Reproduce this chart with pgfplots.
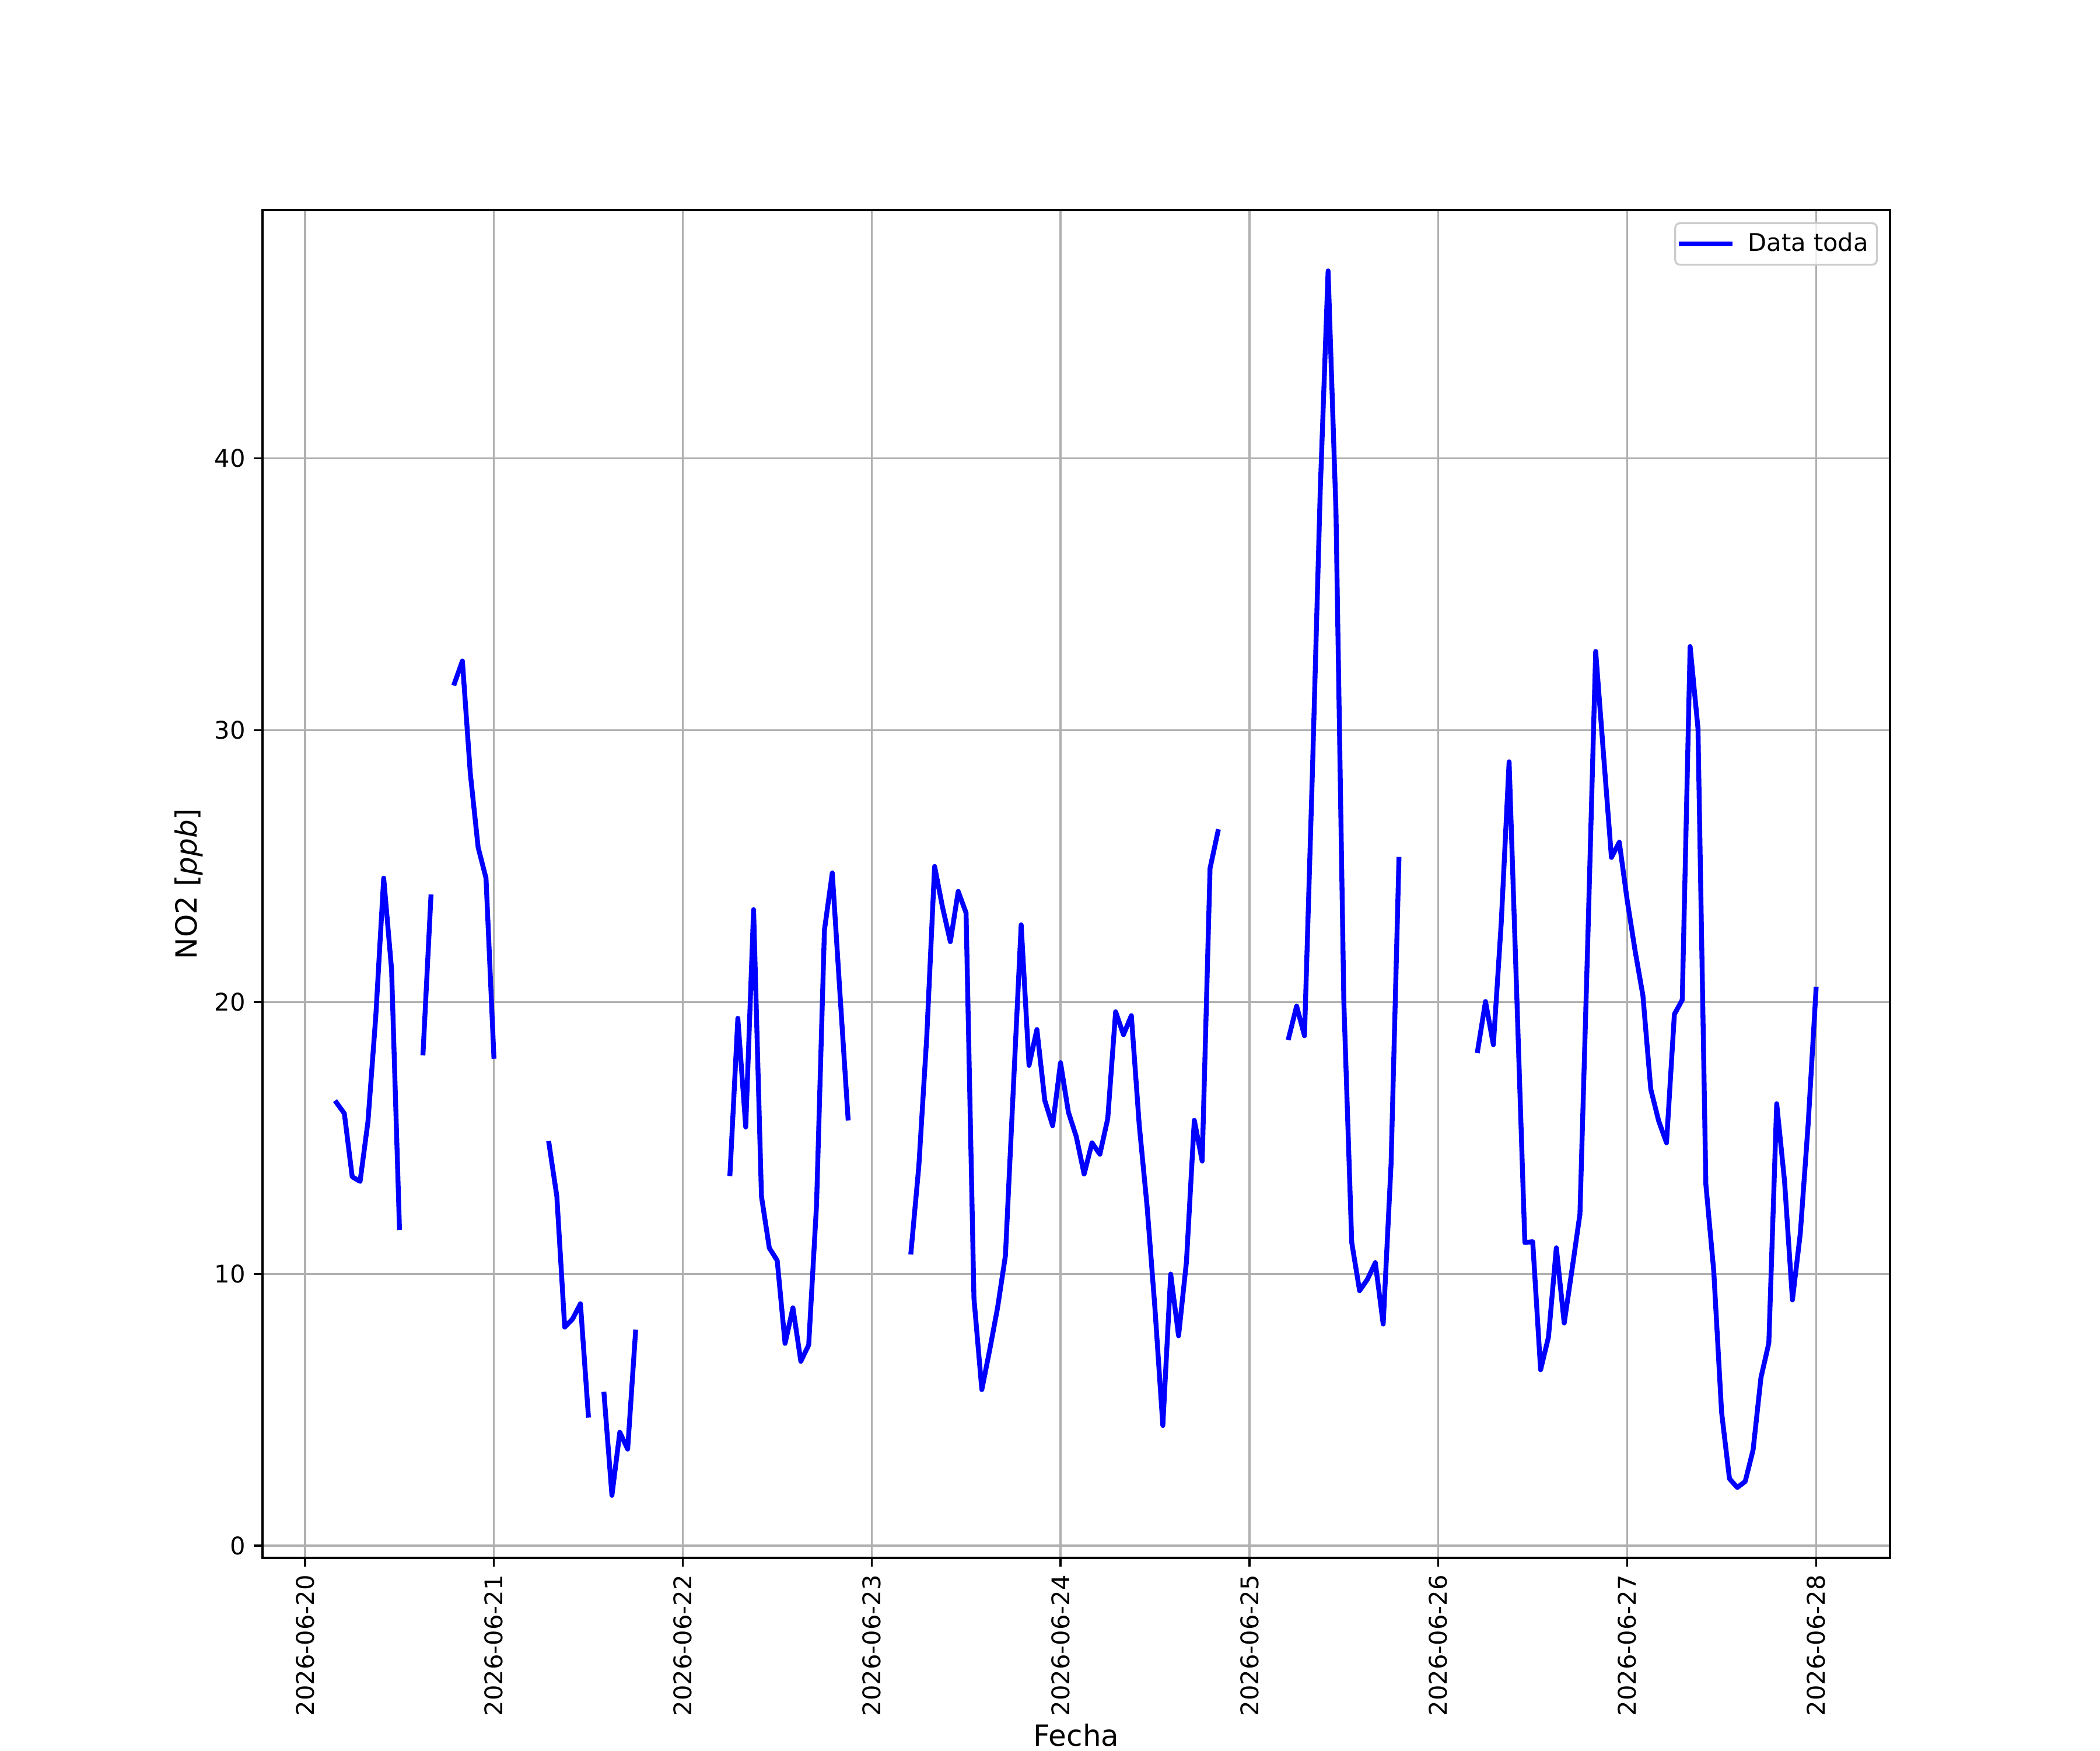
\documentclass[border=0pt,10pt]{standalone}
\usepackage{fontspec}
\setmainfont{DejaVu Sans}
\usepackage{pgfplots}
\usepackage{pgfplotstable}
\pgfplotsset{compat=1.18}
\definecolor{gridgray}{RGB}{176,176,176}
\definecolor{legedge}{RGB}{204,204,204}
\pgfplotstableread{
h v
4 16.3
5 15.9
6 13.57
7 13.4
8 15.6
9 19.5
10 24.56
11 21.2
12 11.7
13 nan
14 nan
15 18.13
16 23.87
17 nan
18 nan
19 31.73
20 32.55
21 28.43
22 25.69
23 24.56
24 18.0
25 nan
30 nan
31 14.8
32 12.85
33 8.04
34 8.34
35 8.9
36 4.8
37 nan
38 5.57
39 1.85
40 4.17
41 3.55
42 7.86
43 nan
53 nan
54 13.68
55 19.4
56 15.4
57 23.4
58 12.85
59 10.95
60 10.49
61 7.44
62 8.75
63 6.78
64 7.38
65 12.55
66 22.64
67 24.75
68 20.2
69 15.73
70 nan
76 nan
77 10.8
78 13.98
79 18.7
80 24.99
81 23.5
82 22.22
83 24.07
84 23.28
85 9.1
86 5.74
87 7.2
88 8.75
89 10.67
90 16.8
91 22.84
92 17.67
93 18.99
94 16.38
95 15.45
96 17.77
97 15.95
98 15.05
99 13.67
100 14.82
101 14.4
102 15.71
103 19.64
104 18.8
105 19.5
106 15.48
107 12.48
108 8.72
109 4.42
110 9.99
111 7.72
112 10.44
113 15.65
114 14.15
115 24.92
116 26.27
117 nan
124 nan
125 18.69
126 19.85
127 18.76
128 28.4
129 38.8
130 46.9
131 38.05
132 20.0
133 11.16
134 9.38
135 9.8
136 10.41
137 8.15
138 14.04
139 25.25
140 nan
148 nan
149 18.21
150 20.02
151 18.43
152 22.92
153 28.84
154 20.0
155 11.15
156 11.18
157 6.47
158 7.67
159 10.96
160 8.19
161 10.17
162 12.2
163 22.3
164 32.9
165 29.1
166 25.32
167 25.88
168 23.75
169 21.9
170 20.24
171 16.79
172 15.63
173 14.82
174 19.55
175 20.08
176 33.08
177 30.06
178 13.29
179 10.11
180 4.9
181 2.46
182 2.14
183 2.36
184 3.52
185 6.18
186 7.45
187 16.26
188 13.4
189 9.04
190 11.49
191 15.52
192 20.47
}\datatable
\begin{document}
\begin{tikzpicture}
\path[use as bounding box] (-108pt,-79.2pt) rectangle (756pt,640.8pt);
\begin{axis}[
  at={(0,0)}, anchor=south west,
  scale only axis, width=669.6pt, height=554.4pt,
  xmin=-5.4, xmax=201.4, ymin=-0.451, ymax=49.14,
  xtick={0,24,48,72,96,120,144,168,192},
  xticklabels={2026-06-20,2026-06-21,2026-06-22,2026-06-23,2026-06-24,2026-06-25,2026-06-26,2026-06-27,2026-06-28},
  ytick={0,10,20,30,40},
  xtick pos=bottom, ytick pos=left,
  tick align=outside, major tick length=3.5pt,
  tick style={black, line width=0.8pt},
  axis line style={line width=0.8pt},
  grid=major, grid style={color=gridgray, line width=0.8pt},
  xticklabel style={rotate=90, anchor=east},
  /pgf/number format/assume math mode=true,
  xlabel={Fecha}, ylabel={NO2 [\textit{ppb}]},
  xlabel style={at={(axis description cs:0.5,-0.1398)}, anchor=base, font=\fontsize{12}{14}\selectfont},
  ylabel style={at={(axis description cs:-0.0452,0.5)}, anchor=center, font=\fontsize{12}{14}\selectfont},
  legend style={at={(axis description cs:1,1)}, anchor=north east, xshift=-5pt, yshift=-5pt,
    draw=legedge, line width=0.8pt, rounded corners=2pt, fill=white, fill opacity=0.8, text opacity=1,
    inner xsep=1.5pt, inner ysep=2pt, cells={anchor=west},
    /tikz/every odd column/.append style={column sep=4.4pt}},
  legend image code/.code={\draw[#1] (0pt,0pt) -- (20pt,0pt);},
  unbounded coords=jump,
]
\addplot[color=blue, line width=2pt, line cap=rect, line join=round] table[x=h, y=v] {\datatable};
\addlegendentry{Data toda}
\end{axis}
\end{tikzpicture}
\end{document}
